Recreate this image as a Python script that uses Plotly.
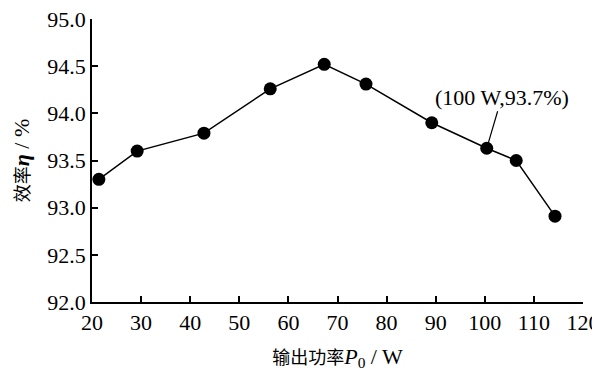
import plotly.graph_objects as go

power_w = [21.4, 29.2, 42.8, 56.3, 67.3, 75.8, 89.2, 100.4, 106.4, 114.3]
efficiency_pct = [93.30, 93.60, 93.79, 94.26, 94.52, 94.31, 93.90, 93.63, 93.50, 92.91]
x_ticks = [20, 30, 40, 50, 60, 70, 80, 90, 100, 110, 120]
y_ticks = [92.0, 92.5, 93.0, 93.5, 94.0, 94.5, 95.0]
note_x, note_y = 100.4, 93.63
note_text = "(100 W,93.7%)"

serif = "Liberation Serif, Times New Roman, serif"
cjk_span = '<span style="font-family:Noto Sans CJK SC;font-size:18px">{}</span>'

fig = go.Figure()
fig.add_trace(go.Scatter(
    x=power_w, y=efficiency_pct, mode="lines+markers",
    line=dict(color="black", width=1.5),
    marker=dict(color="black", size=13),
    showlegend=False, cliponaxis=False,
))

fig.add_annotation(
    x=note_x, y=note_y, text=note_text,
    showarrow=True, arrowhead=0, arrowwidth=1.2, arrowcolor="black",
    ax=15, ay=-51, standoff=5,
    font=dict(family=serif, size=22, color="black"),
)

axis_common = dict(
    showline=True, linecolor="black", linewidth=1.5,
    ticks="inside", ticklen=6, tickwidth=1.5, tickcolor="black",
    showgrid=False, zeroline=False, mirror=False, automargin=False,
    ticklabeloverflow="allow",
    tickfont=dict(family=serif, size=22, color="black"),
)

fig.update_xaxes(
    range=[20, 120], tickvals=x_ticks, ticktext=[str(v) for v in x_ticks],
    title=dict(text=cjk_span.format("输出功率") + "<i>P</i><sub>0</sub> / W",
               font=dict(family=serif, size=22, color="black"), standoff=14),
    **axis_common,
)
fig.update_yaxes(
    range=[92, 95], tickvals=y_ticks, ticktext=[f"{v:.1f}" for v in y_ticks],
    title=dict(text=cjk_span.format("效率") + "<b><i>η</i></b> / %",
               font=dict(family=serif, size=22, color="black"), standoff=16),
    **axis_common,
)

fig.update_layout(
    width=592, height=370,
    margin=dict(l=84, r=17, t=11, b=76),
    paper_bgcolor="white", plot_bgcolor="white",
)

fig.write_html("out.html")
